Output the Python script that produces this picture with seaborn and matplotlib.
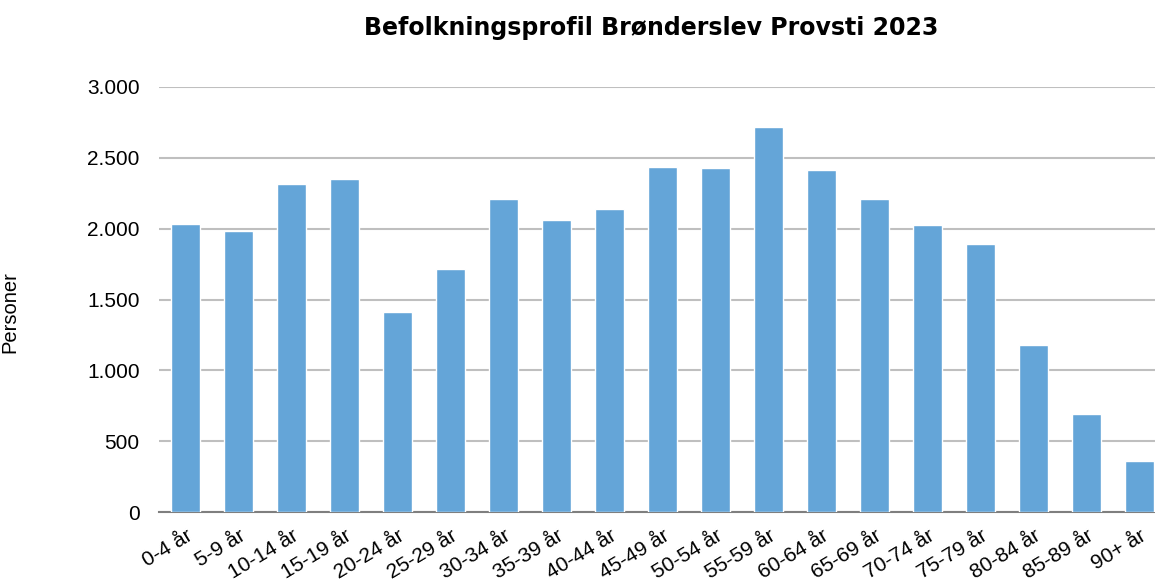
import matplotlib
matplotlib.use("Agg")
import pandas as pd
import seaborn as sns
from matplotlib import pyplot as plt
from matplotlib.ticker import FuncFormatter, MultipleLocator

age_groups = ["0-4 år", "5-9 år", "10-14 år", "15-19 år", "20-24 år", "25-29 år",
              "30-34 år", "35-39 år", "40-44 år", "45-49 år", "50-54 år", "55-59 år",
              "60-64 år", "65-69 år", "70-74 år", "75-79 år", "80-84 år", "85-89 år", "90+ år"]
personer = [2033, 1983, 2318, 2352, 1412, 1715, 2209, 2058, 2139, 2437, 2430, 2716,
            2416, 2207, 2026, 1895, 1182, 693, 362]

df = pd.DataFrame({"Aldersgruppe": age_groups, "Personer": personer})

sns.set_theme(style="white")
plt.rcParams["font.family"] = ["Liberation Sans", "DejaVu Sans"]

fig = plt.figure(figsize=(11.55, 5.83), dpi=100)
# plot area runs a bit past the right edge, like the source image
ax = fig.add_axes([159 / 1155, 71 / 583, 1007 / 1155, 425 / 583])

sns.barplot(data=df, x="Aldersgruppe", y="Personer", color="#64a5d8",
            saturation=1, width=0.56, ax=ax, zorder=3)

ax.set_ylim(0, 3000)
ax.set_xlim(-0.5, len(age_groups) - 0.5)
ax.yaxis.set_major_locator(MultipleLocator(500))
ax.yaxis.set_major_formatter(FuncFormatter(lambda v, p: f"{int(v):,}".replace(",", ".")))
ax.grid(axis="y", color="#bfbfbf", linewidth=1.5, zorder=0)
ax.set_axisbelow(True)

for s in ["top", "right", "left"]:
    ax.spines[s].set_visible(False)
ax.spines["bottom"].set_color("#7f7f7f")
ax.spines["bottom"].set_linewidth(1.5)

ax.tick_params(axis="y", labelsize=15, length=0, pad=14, labelcolor="#000000")
ax.tick_params(axis="x", labelsize=15, length=0, pad=10, labelcolor="#000000")
plt.setp(ax.get_xticklabels(), rotation=31, ha="right", rotation_mode="anchor")

ax.set_xlabel("")
ax.set_ylabel("Personer", fontsize=14.5, color="#000000")
ax.yaxis.set_label_coords(-0.139, 0.47)

fig.suptitle("Befolkningsprofil Brønderslev Provsti 2023", x=0.564, y=0.972,
             fontsize=17, fontweight="bold", color="#000000",
             family=["DejaVu Sans"])

fig.savefig("out.png", dpi=100)
